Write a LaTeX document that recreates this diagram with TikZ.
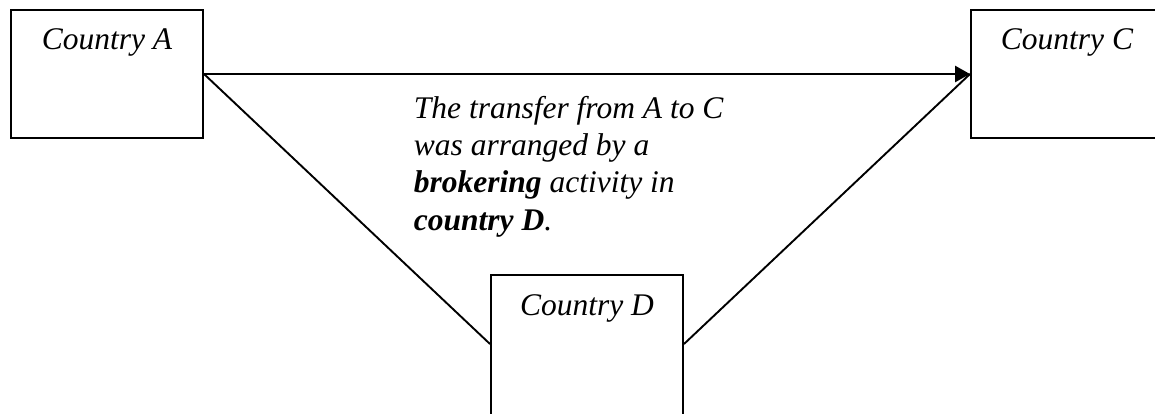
\documentclass[tikz,border=0pt]{standalone}
\usepackage{fontspec}
\setmainfont{Liberation Serif}
\usetikzlibrary{arrows.meta,calc}

\tikzset{
  country/.style={draw, line width=2pt, minimum width=192pt, minimum height=#1,
    inner sep=0pt, anchor=north west},
  cname/.style={anchor=base, yshift=-41pt},
}

\begin{document}
\begin{tikzpicture}[x=1pt,y=-1pt,line width=1.9pt,
  every node/.style={font=\fontsize{31.5}{37.3}\selectfont\itshape}]
\useasboundingbox (0,0) rectangle (1155,414);
\clip (0,0) rectangle (1155,414);

% Country boxes, name near the top edge.
\node[country=128pt, label={[cname]north:Country A}] (a) at (10,9) {};
\node[country=128pt, label={[cname]north:Country C}] (c) at (970,9) {};
\node[country=170pt, label={[cname]north:Country D}] (d) at (490,274) {};

% Where the lines meet country D.
\coordinate (dleft) at ($(d.north west)+(0,70)$);
\coordinate (dright) at ($(d.north east)+(0,70)$);

% Transfer and brokering lines.
\draw[-{Triangle[length=15pt,width=16pt]}, line width=2.8pt] (a.east) -- (c.west);
\draw (a.east) -- (dleft);
\draw (dright) -- (c.west);

\node[anchor=base west, align=left, inner sep=0pt] (note) at (413,230)
  {The transfer from A to C\\ was arranged by a\\ \textbf{brokering} activity in\\ \textbf{country D}.};

\end{tikzpicture}
\end{document}
